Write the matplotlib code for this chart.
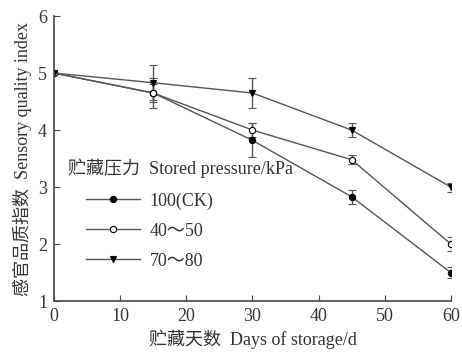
import matplotlib.pyplot as plt

plt.rcParams['font.family'] = ['Liberation Serif', 'Noto Sans CJK SC']

days = [0, 15, 30, 45, 60]
ck = [5.0, 4.65, 3.82, 2.83, 1.5]
ck_err = [0, 0.27, 0.3, 0.12, 0.1]
p40_50 = [5.0, 4.65, 4.0, 3.48, 2.0]
p40_50_err = [0, 0.15, 0.12, 0.08, 0.12]
p70_80 = [5.0, 4.83, 4.65, 4.0, 3.0]
p70_80_err = [0, 0.31, 0.27, 0.12, 0.08]

series = [
    ("100(CK)", ck, ck_err, "o", "black"),
    ("40～50", p40_50, p40_50_err, "o", "white"),
    ("70～80", p70_80, p70_80_err, "v", "black"),
]

txt = "#333333"
fig = plt.figure(figsize=(4.62, 3.56), dpi=100)
ax = fig.add_axes([0.117, 0.154, 0.859, 0.801])

for label, y, err, marker, face in series:
    ax.errorbar(days, y, yerr=err, label=label, color="#555555", lw=1.0,
                marker=marker, ms=4.5, mfc=face, mec="black", mew=0.8,
                ecolor="#555555", elinewidth=1.0, capsize=3, capthick=1.0)

ax.set_xlim(0, 60)
ax.set_ylim(1, 6)
ax.set_xticks(range(0, 61, 10))
ax.set_yticks(range(1, 7))
ax.tick_params(direction="in", labelsize=13, length=4, pad=5,
               color="#444444", labelcolor=txt)
for s in ["top", "right"]:
    ax.spines[s].set_visible(False)
for s in ["left", "bottom"]:
    ax.spines[s].set_color("#444444")
    ax.spines[s].set_linewidth(1.2)

ax.set_xlabel("贮藏天数  Days of storage/d", fontsize=13, color=txt, labelpad=3)
ax.set_ylabel("感官品质指数  Sensory quality index", fontsize=13, color=txt, labelpad=4)

handles, labels = ax.get_legend_handles_labels()
handles = [h[0] for h in handles]
ax.legend(handles, labels, loc="upper left", bbox_to_anchor=(0.08, 0.382),
          frameon=False, fontsize=13, handlelength=3.0, labelspacing=0.72,
          borderpad=0, borderaxespad=0, handletextpad=0.55, labelcolor=txt)
ax.text(0.035, 0.467, "贮藏压力  Stored pressure/kPa", transform=ax.transAxes,
        fontsize=13, color=txt, va="center", ha="left")

fig.savefig("out.png", dpi=100)
